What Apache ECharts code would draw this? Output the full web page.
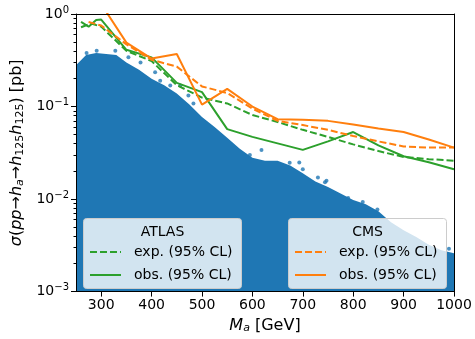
<!DOCTYPE html>
<html>
<head>
<meta charset="utf-8">
<script src="https://cdn.jsdelivr.net/npm/echarts@6/dist/echarts.min.js"></script>
<style>
  html, body { margin: 0; padding: 0; background: #fff; }
  #chart { width: 475px; height: 339px; }
</style>
</head>
<body>
<div id="chart"></div>
<script>
// tick labels
const xTicks = [300, 400, 500, 600, 700, 800, 900, 1000];
const yTicks = [0.001, 0.01, 0.1, 1];
const yMinorTicks = [0.002, 0.003, 0.004, 0.005, 0.006, 0.007, 0.008, 0.009,
  0.02, 0.03, 0.04, 0.05, 0.06, 0.07, 0.08, 0.09,
  0.2, 0.3, 0.4, 0.5, 0.6, 0.7, 0.8, 0.9];

// upper edge of the scan-point cloud
const cloudX = [250, 270, 290, 310, 330, 350, 375, 400, 425, 450, 475, 500, 525, 550, 575, 600,
  625, 650, 675, 700, 725, 750, 775, 800, 825, 850, 875, 900, 925, 950, 975, 1000];
const cloudTop = [0.28, 0.36, 0.38, 0.37, 0.36, 0.30, 0.25, 0.20, 0.17, 0.138, 0.105, 0.077, 0.06, 0.046, 0.035, 0.028,
  0.026, 0.026, 0.023, 0.019, 0.0155, 0.0135, 0.0115, 0.0098, 0.0088, 0.0074, 0.0056, 0.0046, 0.0039, 0.0032, 0.0028, 0.0026];

// loose points sticking out of the cloud
const dotX = [271, 291, 328, 354, 378, 407, 417, 437, 457, 473, 483, 595, 618, 674, 693, 700, 730, 744, 747, 790, 819, 848, 990];
const dotY = [0.38, 0.40, 0.40, 0.34, 0.30, 0.234, 0.19, 0.169, 0.169, 0.132, 0.108, 0.030, 0.0338, 0.0247, 0.0249, 0.021,
  0.0171, 0.0152, 0.0158, 0.0103, 0.0093, 0.0077, 0.0029];

// ATLAS limits
const atlasExpX = [260, 280, 300, 350, 400, 450, 500, 550, 600, 650, 700, 750, 800, 850, 900, 950, 1000, 1020];
const atlasExp = [0.72, 0.79, 0.73, 0.40, 0.31, 0.17, 0.125, 0.108, 0.081, 0.068, 0.056, 0.047, 0.039, 0.033, 0.0285, 0.027, 0.026, 0.045];
const atlasObsX = [260, 275, 290, 300, 350, 400, 450, 500, 550, 600, 650, 700, 750, 800, 850, 900, 950, 1000];
const atlasObs = [0.82, 0.73, 0.86, 0.87, 0.41, 0.34, 0.18, 0.143, 0.057, 0.047, 0.040, 0.034, 0.042, 0.053, 0.038, 0.029, 0.025, 0.021];

// CMS limits
const cmsExpX = [275, 300, 350, 400, 450, 500, 550, 600, 650, 700, 750, 800, 850, 900, 950, 1000];
const cmsExp = [0.82, 0.75, 0.47, 0.32, 0.27, 0.165, 0.14, 0.095, 0.07, 0.063, 0.056, 0.048, 0.042, 0.037, 0.036, 0.036];
const cmsObsX = [300, 350, 400, 450, 500, 550, 600, 650, 700, 750, 800, 850, 900, 950, 1000];
const cmsObs = [1.28, 0.49, 0.33, 0.37, 0.105, 0.155, 0.10, 0.073, 0.072, 0.070, 0.064, 0.058, 0.053, 0.044, 0.036];

const zip = (xs, ys) => xs.map((x, i) => [x, ys[i]]);
const FONT = 'DejaVu Sans';
const BLUE = '#1f77b4', ORANGE = '#ff7f0e', GREEN = '#2ca02c';

const chart = echarts.init(document.getElementById('chart'), null, { renderer: 'canvas' });

const limitLine = (name, xs, ys, color, dashed) => ({
  name: name,
  type: 'line',
  data: zip(xs, ys),
  symbol: 'none',
  clip: true,
  lineStyle: { color: color, width: 2, type: dashed ? [7, 3] : 'solid' },
  itemStyle: { color: color },
  z: 3
});

const legendBase = {
  orient: 'vertical',
  top: 244,
  itemWidth: 31,
  itemHeight: 14,
  itemGap: 7,
  padding: 0,
  z: 60,
  itemStyle: { opacity: 0 },
  formatter: name => name.replace(/^(ATLAS|CMS) /, ''),
  textStyle: { fontFamily: FONT, fontSize: 14, color: '#000', lineHeight: 16, padding: [0, 0, 0, 8] }
};

const option = {
  animation: false,
  grid: { left: 76, right: 21, top: 14, bottom: 43 },
  xAxis: [
    {
      type: 'value', min: 250, max: 1000, position: 'bottom', z: 70,
      axisLine: { show: true, lineStyle: { color: '#000', width: 1 } },
      axisTick: { show: true, customValues: xTicks, length: 5, lineStyle: { color: '#000' } },
      axisLabel: { customValues: xTicks, formatter: v => String(v), fontFamily: FONT, fontSize: 14, color: '#000', margin: 7 },
      splitLine: { show: false },
      name: '{i|M}{si|a}{n| [GeV]}',
      nameLocation: 'middle',
      nameGap: 21,
      nameTextStyle: {
        rich: {
          i: { fontFamily: FONT, fontSize: 16, fontStyle: 'italic', color: '#000' },
          si: { fontFamily: FONT, fontSize: 11, fontStyle: 'italic', color: '#000', padding: [6, 0, 0, 0] },
          n: { fontFamily: FONT, fontSize: 16, color: '#000' }
        }
      }
    },
    {
      type: 'value', min: 250, max: 1000, position: 'top', z: 70,
      axisLine: { show: true, lineStyle: { color: '#000', width: 1 } },
      axisTick: { show: false }, axisLabel: { show: false }, splitLine: { show: false }
    }
  ],
  yAxis: [
    {
      type: 'log', logBase: 10, min: 0.001, max: 1, position: 'left', z: 70,
      axisLine: { show: true, lineStyle: { color: '#000', width: 1 } },
      axisTick: { show: true, customValues: yTicks, length: 5, lineStyle: { color: '#000' } },
      axisLabel: {
        customValues: yTicks, margin: 7,
        formatter: v => {
          const e = Math.round(Math.log10(v));
          return '{n|10}{s|' + (e < 0 ? '\u2212' + (-e) : e) + '}';
        },
        rich: {
          n: { fontFamily: FONT, fontSize: 14, color: '#000' },
          s: { fontFamily: FONT, fontSize: 10, color: '#000', padding: [0, 0, 8, 0] }
        }
      },
      splitLine: { show: false },
      name: '{i|\u03c3}{n|(}{i|pp}{n|\u2192}{i|h}{si|a}{n|\u2192}{i|h}{s|125}{i|h}{s|125}{n|) [pb]}',
      nameLocation: 'middle',
      nameGap: 36,
      nameTextStyle: {
        rich: {
          i: { fontFamily: FONT, fontSize: 16, fontStyle: 'italic', color: '#000' },
          n: { fontFamily: FONT, fontSize: 16, color: '#000' },
          si: { fontFamily: FONT, fontSize: 11, fontStyle: 'italic', color: '#000', padding: [6, 0, 0, 0] },
          s: { fontFamily: FONT, fontSize: 11, color: '#000', padding: [6, 0, 0, 0] }
        }
      }
    },
    {
      type: 'log', logBase: 10, min: 0.001, max: 1, position: 'left', z: 70,
      axisLine: { show: false },
      axisTick: { show: true, customValues: yMinorTicks, length: 2.5, lineStyle: { color: '#000' } },
      axisLabel: { show: false }, splitLine: { show: false }
    },
    {
      type: 'log', logBase: 10, min: 0.001, max: 1, position: 'right', z: 70,
      axisLine: { show: true, lineStyle: { color: '#000', width: 1 } },
      axisTick: { show: false }, axisLabel: { show: false }, splitLine: { show: false }
    }
  ],
  legend: [
    Object.assign({}, legendBase, { left: 89, data: ['ATLAS exp. (95% CL)', 'ATLAS obs. (95% CL)'] }),
    Object.assign({}, legendBase, { left: 294, data: ['CMS exp. (95% CL)', 'CMS obs. (95% CL)'] })
  ],
  graphic: [
    { type: 'rect', z: 50, shape: { x: 83.5, y: 218.5, width: 158, height: 70, r: 3 },
      style: { fill: 'rgba(255,255,255,0.8)', stroke: '#cccccc', lineWidth: 1 } },
    { type: 'text', z: 51, x: 162.5, y: 232,
      style: { text: 'ATLAS', font: '14px "DejaVu Sans"', fill: '#000', align: 'center', verticalAlign: 'middle' } },
    { type: 'rect', z: 50, shape: { x: 288.5, y: 218.5, width: 158, height: 70, r: 3 },
      style: { fill: 'rgba(255,255,255,0.8)', stroke: '#cccccc', lineWidth: 1 } },
    { type: 'text', z: 51, x: 367.5, y: 232,
      style: { text: 'CMS', font: '14px "DejaVu Sans"', fill: '#000', align: 'center', verticalAlign: 'middle' } }
  ],
  series: [
    {
      name: 'scan',
      type: 'line',
      data: zip(cloudX, cloudTop),
      symbol: 'none',
      silent: true,
      lineStyle: { width: 0 },
      areaStyle: { color: BLUE, opacity: 1, origin: 'start' },
      z: 1
    },
    {
      name: 'scan points',
      type: 'scatter',
      data: zip(dotX, dotY),
      symbolSize: 4,
      silent: true,
      itemStyle: { color: BLUE },
      z: 1
    },
    limitLine('ATLAS exp. (95% CL)', atlasExpX, atlasExp, GREEN, true),
    limitLine('ATLAS obs. (95% CL)', atlasObsX, atlasObs, GREEN, false),
    limitLine('CMS exp. (95% CL)', cmsExpX, cmsExp, ORANGE, true),
    limitLine('CMS obs. (95% CL)', cmsObsX, cmsObs, ORANGE, false)
  ]
};

chart.setOption(option);
</script>
</body>
</html>
